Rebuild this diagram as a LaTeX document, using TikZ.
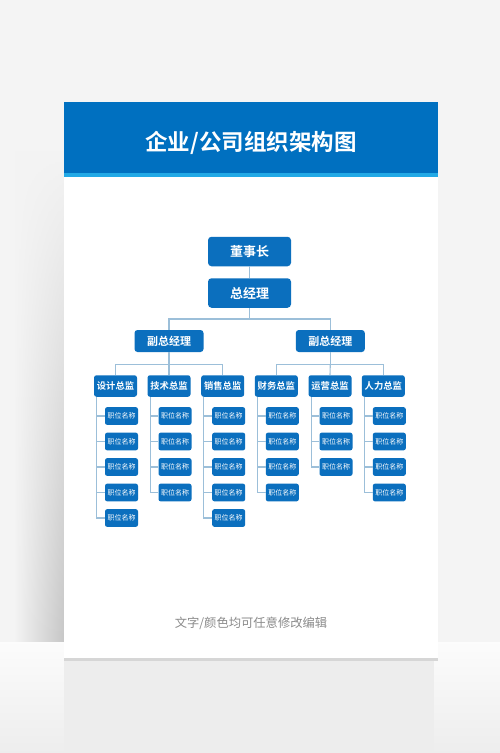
\documentclass[tikz,border=0pt]{standalone}
\usepackage{fontspec}
\newfontfamily\cjk{Noto Sans CJK SC}[BoldFont={Noto Sans CJK SC Bold}]
\usetikzlibrary{fadings}
\definecolor{pagebg}{HTML}{F4F4F4}
\definecolor{hdrblue}{HTML}{0070C0}
\definecolor{stripe}{HTML}{22A9E6}
\definecolor{boxblue}{HTML}{0B6FBE}
\definecolor{linkc}{HTML}{9CBFD9}
\definecolor{foot}{HTML}{8A8A8A}
\tikzset{
  bigbox/.style={fill=boxblue, rounded corners=3.5pt, minimum width=83pt, minimum height=29.5pt, inner sep=0pt, text=white, font=\cjk\bfseries\fontsize{13}{13}\selectfont},
  vpbox/.style={fill=boxblue, rounded corners=3pt, minimum width=69pt, minimum height=22pt, inner sep=0pt, text=white, font=\cjk\bfseries\fontsize{11}{11}\selectfont},
  dirbox/.style={fill=boxblue, rounded corners=2.5pt, minimum width=43pt, minimum height=21.5pt, inner sep=0pt, text=white, font=\cjk\bfseries\fontsize{9.3}{9.3}\selectfont},
  kidbox/.style={fill=boxblue, rounded corners=2.2pt, minimum width=33pt, minimum height=17.7pt, inner sep=0pt, text=white, font=\cjk\fontsize{7}{7}\selectfont},
  link/.style={draw=linkc, line width=1.1pt},
}
\begin{document}
\begin{tikzpicture}[x=1pt,y=-1pt]
\useasboundingbox (0,0) rectangle (500,753);
% background wall and floor
\fill[pagebg] (0,0) rectangle (500,642);
\shade[top color=white!70!pagebg, bottom color=black!7] (0,642) rectangle (500,753);
% shadow left of card
\shade[left color=pagebg, right color=black!22, path fading=north] (14,150) rectangle (64,642);
% reflection below card
\fill[black!7] (64,660) rectangle (434,752);
\fill[black!16] (64,658) rectangle (438,661);
% card
\fill[white] (64,101.5) rectangle (438.3,658);
\fill[stripe] (64,170) rectangle (438.3,177.3);
\fill[hdrblue] (64,101.5) rectangle (438.3,172.7);
\node[text=white, font=\cjk\bfseries\fontsize{22.5}{22.5}\selectfont] (title) at (251,143) {企业/公司组织架构图};
% top levels
\node[bigbox] (ceo) at (249.5,251.5) {董事长};
\node[bigbox] (gm) at (249.5,293) {总经理};
\node[vpbox] (vpA) at (169,341) {副总经理};
\node[vpbox] (vpB) at (330.3,341) {副总经理};
\coordinate (busA) at (249.5,319);
\coordinate (busL) at (169,364.3);
\coordinate (busR) at (330.3,364.3);
\draw[link] (ceo.south) -- (gm.north);
\draw[link] (gm.south) -- (busA);
\draw[link] (vpA.north) |- (busA) -| (vpB.north);
% directors
\node[dirbox] (d1) at (115.5,386) {设计总监};
\node[dirbox] (d2) at (169,386) {技术总监};
\node[dirbox] (d3) at (222.7,386) {销售总监};
\node[dirbox] (d4) at (276.3,386) {财务总监};
\node[dirbox] (d5) at (330,386) {运营总监};
\node[dirbox] (d6) at (383.3,386) {人力总监};
\draw[link] (vpA.south) -- (busL);
\draw[link] (d1.north) |- (busL) -| (d3.north);
\draw[link] (busL) -- (d2.north);
\draw[link] (vpB.south) -- (busR);
\draw[link] (d4.north) |- (busR) -| (d6.north);
\draw[link] (busR) -- (d5.north);
% children
\foreach \d/\n in {1/5,2/4,3/5,4/4,5/3,6/4}{
  \coordinate (s\d) at ([xshift=2.8pt]d\d.south west);
  \foreach \k in {1,...,\n}{
    \node[kidbox] (c\d-\k) at ([xshift=6pt]d\d.center |- 0,{416+25.5*(\k-1)}) {职位名称};
    \draw[link] (c\d-\k.west) -- (c\d-\k.west -| s\d);
  }
  \draw[link] (s\d) |- (c\d-\n.west);
}
% footer
\node[text=foot, font=\cjk\fontsize{12.3}{12.3}\selectfont] (foot) at (251,623) {文字/颜色均可任意修改编辑};
\end{tikzpicture}
\end{document}
